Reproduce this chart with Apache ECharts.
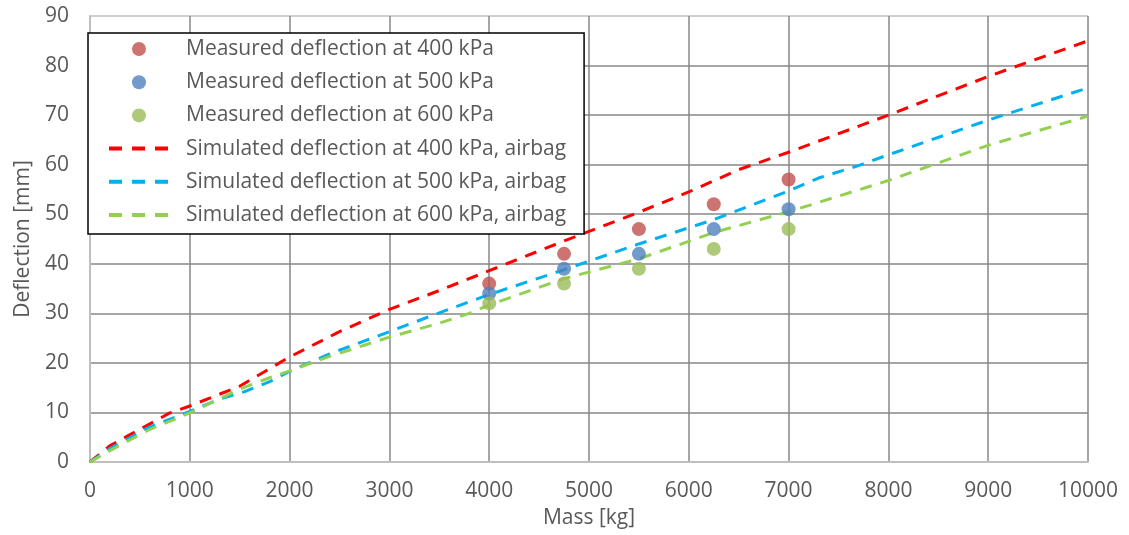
<!DOCTYPE html>
<html>
<head>
<meta charset="utf-8">
<script src="https://cdn.jsdelivr.net/npm/echarts@6/dist/echarts.min.js"></script>
<style>
  html, body { margin: 0; padding: 0; background: #fff; }
  #main { width: 1129px; height: 535px; }
</style>
</head>
<body>
<div id="main"></div>
<script>
// measured points
const measuredMass = [4000, 4750, 5500, 6250, 7000]
const measured400 = [36, 42, 47, 52, 57]
const measured500 = [34, 39, 42, 47, 51]
const measured600 = [32, 36, 39, 43, 47]

// simulated curves (airbag)
const sim400Mass = [0, 200, 800, 1000, 1500, 2000, 2500, 3000, 3500, 4000, 4750, 5500, 6000, 6500, 7000, 8000, 9000, 10000]
const sim400 = [0, 3.3, 9.9, 11.3, 15.3, 21.2, 26.3, 30.8, 34.6, 38.6, 44.6, 50.4, 54.5, 59, 62.5, 70, 77.8, 85]
const sim500Mass = [0, 200, 600, 1000, 1300, 1550, 1800, 2000, 2400, 3000, 3500, 4000, 4750, 5500, 6250, 7000, 7300, 7700, 8000, 9000, 10000]
const sim500 = [0, 2.7, 7.1, 10.2, 12.7, 14.2, 16.2, 18.3, 21.8, 26.3, 30.1, 33.8, 38.8, 44, 48.9, 54.7, 57.3, 59.8, 62, 69, 75.5]
const sim600Mass = [0, 200, 600, 1000, 1500, 1800, 2000, 2400, 3000, 3500, 3800, 4000, 4750, 5500, 6250, 7000, 8000, 9000, 10000]
const sim600 = [0, 2.3, 6.6, 9.9, 14.7, 17, 18.4, 21.3, 25.2, 28, 30, 31.7, 37, 41, 46.3, 50.5, 56.8, 63.9, 69.8]

const names = [
  'Measured deflection at 400 kPa',
  'Measured deflection at 500 kPa',
  'Measured deflection at 600 kPa',
  'Simulated deflection at 400 kPa, airbag',
  'Simulated deflection at 500 kPa, airbag',
  'Simulated deflection at 600 kPa, airbag'
]

const zip = (xs, ys) => xs.map((x, i) => [x, ys[i]])
const textColor = '#595959'
const font = 'Open Sans'
const fontSize = 21
const dash = [12, 9]

const scatter = (name, ys, color) => ({
  name: name,
  type: 'scatter',
  data: zip(measuredMass, ys),
  symbol: 'circle',
  symbolSize: 14,
  itemStyle: { color: color },
  z: 5
})
const line = (name, xs, ys, color) => ({
  name: name,
  type: 'line',
  data: zip(xs, ys),
  symbol: 'none',
  itemStyle: { color: color },
  lineStyle: { color: color, width: 3, type: dash },
  z: 3
})

const ySplitColors = ['#bfbfbf', '#878787', '#878787', '#878787', '#878787', '#878787', '#878787', '#878787', '#878787', '#bfbfbf']

const chart = echarts.init(document.getElementById('main'))
chart.setOption({
  animation: false,
  textStyle: { fontFamily: font },
  grid: { left: 90, right: 41, top: 16, bottom: 73 },
  legend: {
    orient: 'vertical',
    left: 88,
    top: 33,
    backgroundColor: '#fff',
    borderColor: '#000',
    borderWidth: 1.5,
    borderRadius: 0,
    padding: [5, 18, 8, 19],
    itemWidth: 60,
    itemHeight: 14,
    itemGap: 11.2,
    textStyle: { color: textColor, fontSize: fontSize, fontFamily: font, lineHeight: 22, padding: [0, 0, 0, 12] },
    data: names.map((n, i) => i < 3 ? { name: n, icon: 'circle' }
      : { name: n, itemStyle: { opacity: 0 }, lineStyle: { type: [13, 10], width: 4, opacity: 1 } })
  },
  xAxis: {
    type: 'value',
    min: 0,
    max: 10000,
    interval: 1000,
    name: 'Mass [kg]',
    nameLocation: 'middle',
    nameGap: 46,
    nameTextStyle: { color: textColor, fontSize: fontSize, fontFamily: font },
    axisLine: { show: true, onZero: false, lineStyle: { color: '#bfbfbf', width: 2 } },
    axisTick: { show: false },
    axisLabel: { color: textColor, fontSize: fontSize, margin: 19, fontFamily: font, formatter: v => String(v) },
    splitLine: { show: true, lineStyle: { color: '#878787', width: 1.5 } }
  },
  yAxis: {
    type: 'value',
    min: 0,
    max: 90,
    interval: 10,
    name: 'Deflection [mm]',
    nameLocation: 'middle',
    nameGap: 56,
    nameTextStyle: { color: textColor, fontSize: fontSize, fontFamily: font },
    axisLine: { show: true, lineStyle: { color: '#bfbfbf', width: 2 } },
    axisTick: { show: false },
    axisLabel: { color: textColor, fontSize: fontSize, margin: 21, fontFamily: font },
    splitLine: { show: true, lineStyle: { color: ySplitColors, width: 1.5 } }
  },
  series: [
    scatter(names[0], measured400, '#C0504D'),
    scatter(names[1], measured500, '#4F81BD'),
    scatter(names[2], measured600, '#9BBB59'),
    line(names[3], sim400Mass, sim400, '#FF0000'),
    line(names[4], sim500Mass, sim500, '#00B0F0'),
    line(names[5], sim600Mass, sim600, '#92D050')
  ]
})
</script>
</body>
</html>
